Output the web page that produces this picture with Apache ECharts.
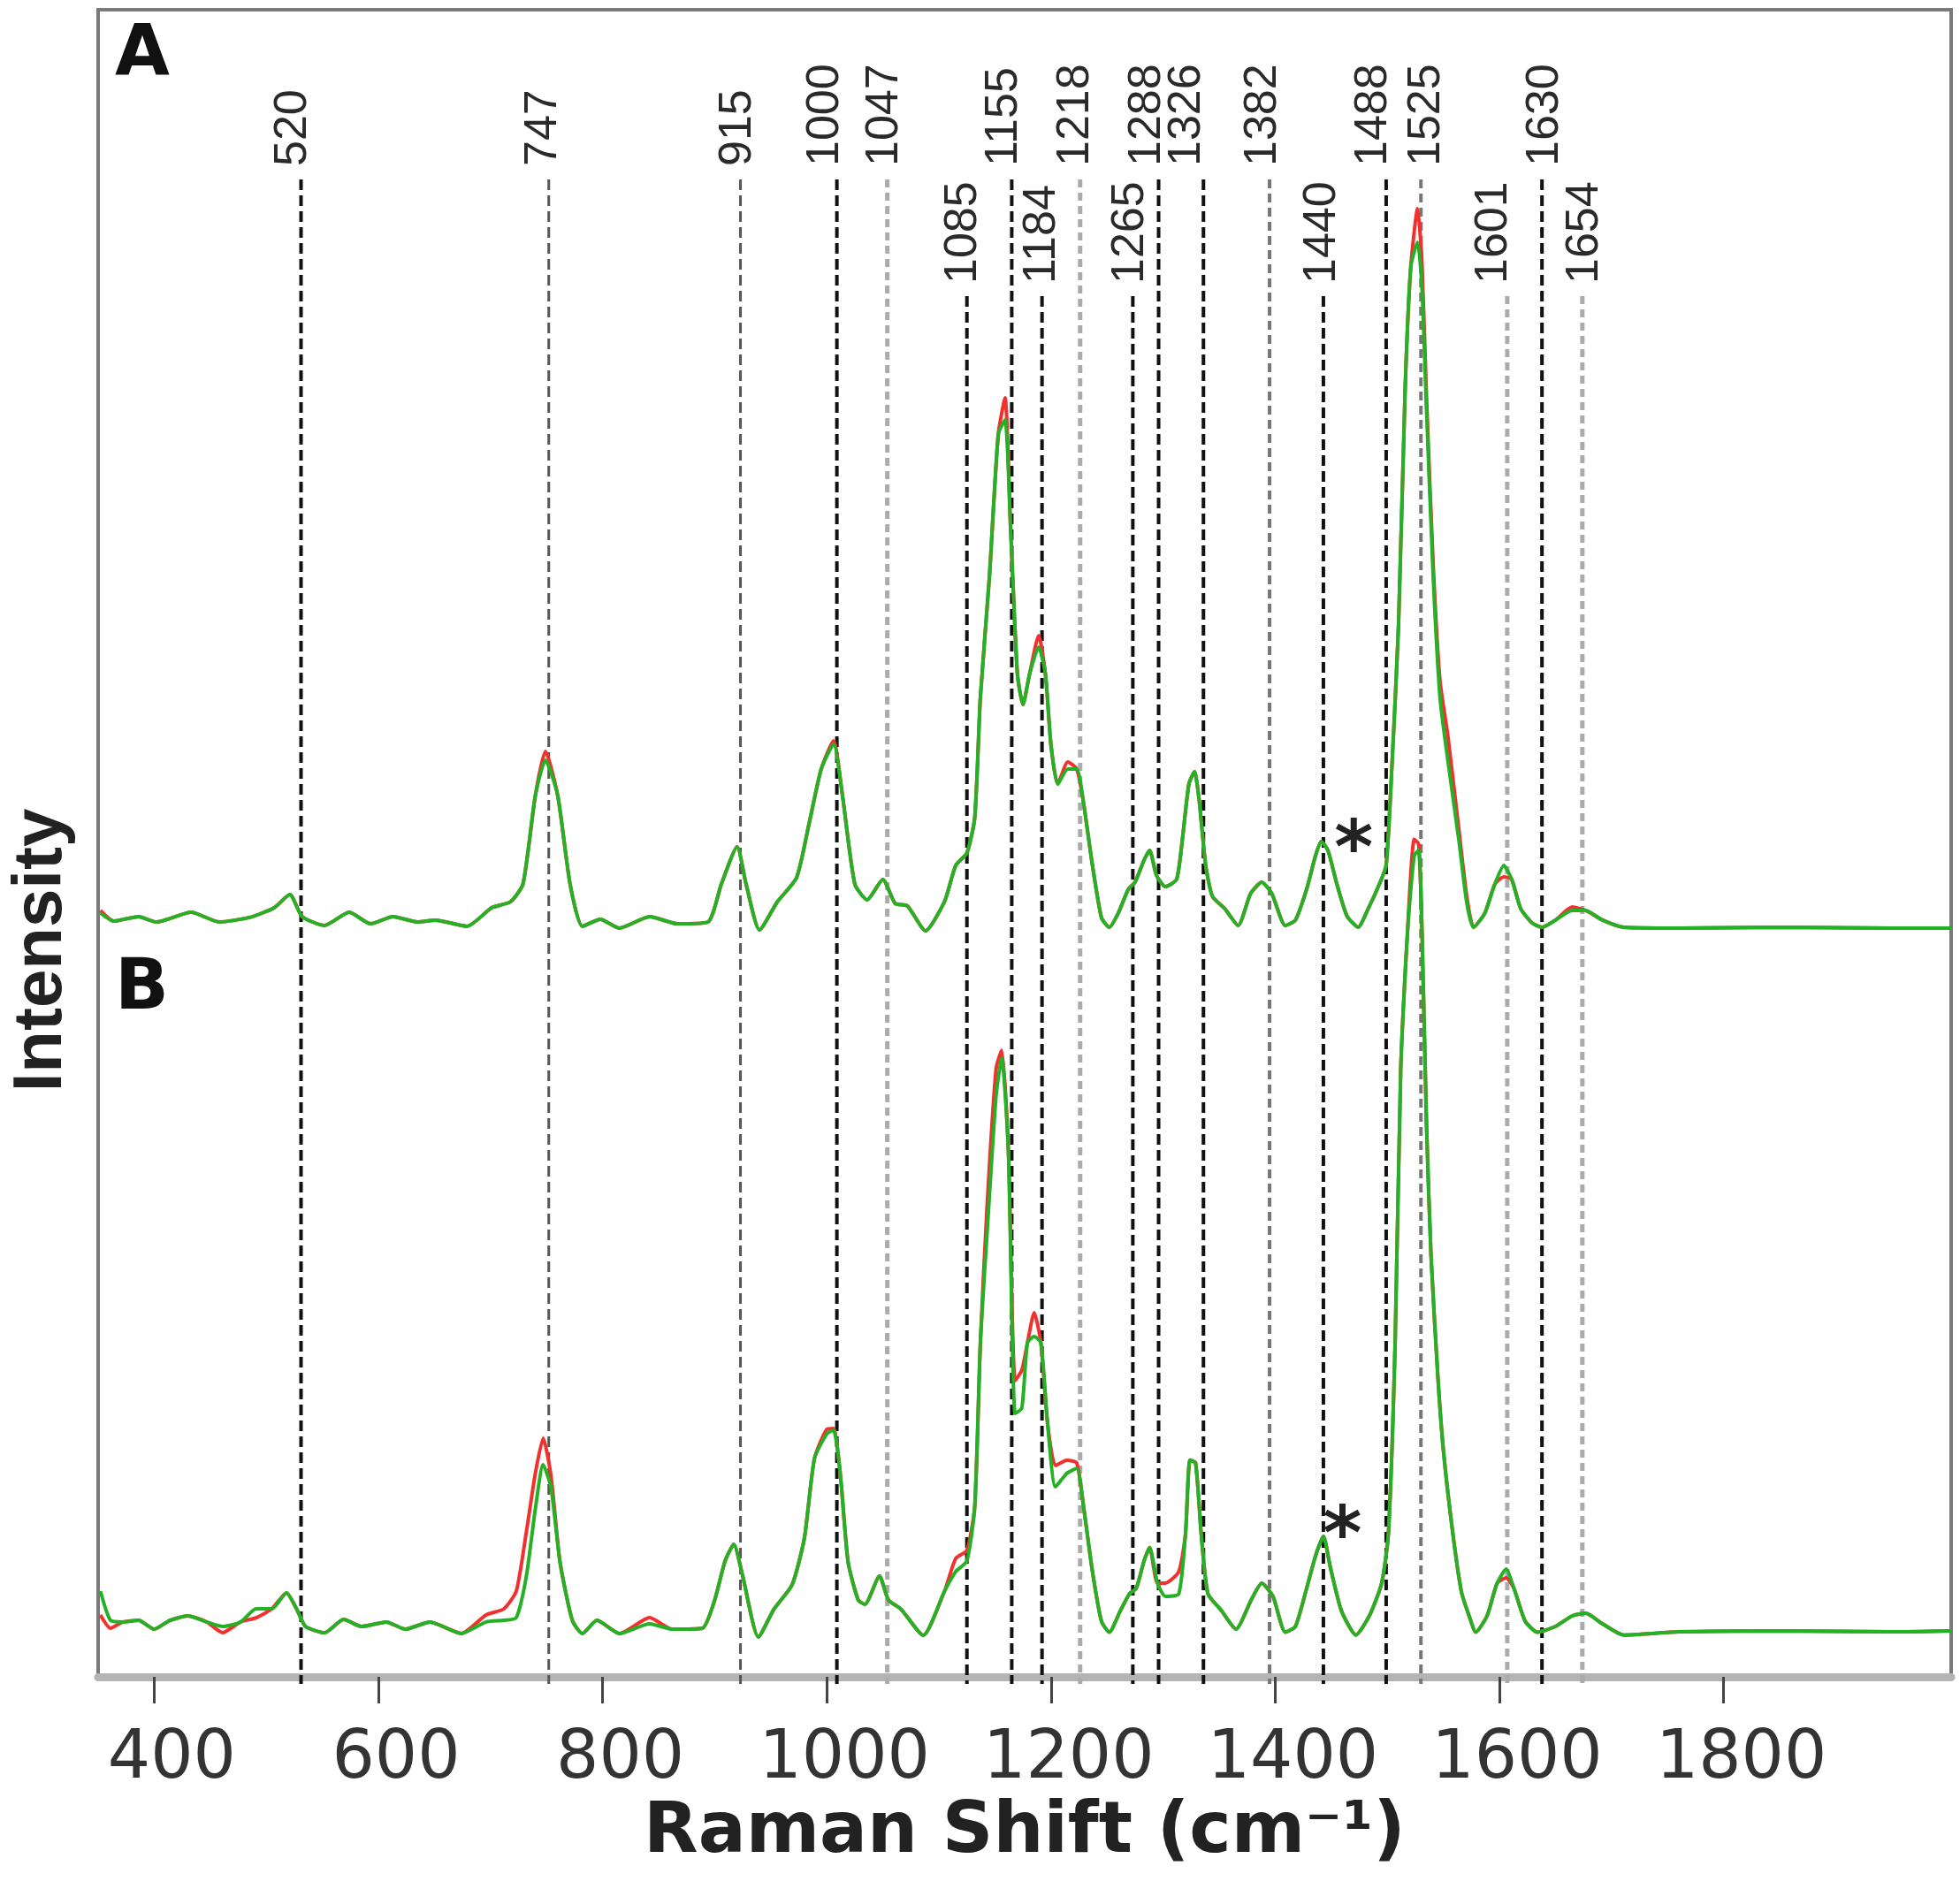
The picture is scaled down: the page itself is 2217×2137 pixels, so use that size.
<!DOCTYPE html>
<html>
<head>
<meta charset="utf-8">
<title>Raman spectra</title>
<script src="https://cdn.jsdelivr.net/npm/echarts@6/dist/echarts.min.js"></script>
<style>
  html, body { margin: 0; padding: 0; background: #fff; }
  #chart { width: 2217px; height: 2137px; }
</style>
</head>
<body>
<div id="chart"></div>
<script>
// Raman shift ticks on the bottom axis
var TICKS = [400, 600, 800, 1000, 1200, 1400, 1600, 1800];

// peak labels, where each label sits and where its dashed line was drawn
var PEAK_LABELS = [520, 747, 915, 1000, 1047, 1085, 1155, 1184, 1218, 1265, 1288, 1326, 1382, 1440, 1488, 1525, 1601, 1630, 1654];
var PEAK_LABEL_X = [524, 747, 921, 999, 1052, 1122, 1158, 1192, 1222, 1271, 1286, 1321, 1389, 1442, 1488, 1535, 1595, 1641, 1676];
var PEAK_LINE_X = [531, 752, 923, 1009, 1054, 1125, 1165, 1192, 1226, 1273, 1296, 1336, 1395, 1443, 1499, 1530, 1607, 1638, 1674];

// spectrum A (upper trace), intensity in a.u. above its own baseline
var X_A = [352, 364, 386, 402, 433, 458, 485, 507, 521, 532, 552, 574, 593, 613, 635, 651, 679, 701, 718, 729,
  740, 749, 760, 771, 782, 798, 815, 842, 867, 894, 906, 920, 928, 940, 956, 973, 984, 995, 1006, 1014,
  1025, 1036, 1050, 1061, 1072, 1088, 1105, 1115, 1125, 1132, 1137, 1145, 1153, 1159, 1164, 1170, 1175, 1181, 1189, 1195,
  1200, 1206, 1215, 1223, 1229, 1237, 1245, 1252, 1260, 1269, 1275, 1283, 1288, 1294, 1302, 1312, 1317, 1323, 1328, 1332,
  1338, 1344, 1355, 1367, 1378, 1388, 1397, 1409, 1418, 1428, 1436, 1441, 1447, 1455, 1464, 1474, 1483, 1493, 1499, 1504,
  1510, 1516, 1521, 1527, 1531, 1535, 1541, 1547, 1554, 1564, 1571, 1577, 1587, 1596, 1604, 1611, 1619, 1629, 1638, 1650,
  1665, 1677, 1692, 1711, 1760, 1850, 1950, 2003];
var GREEN_A = [3.81, 3.33, 3.60, 3.28, 3.86, 3.28, 3.55, 4.13, 4.92, 3.60, 3.07, 3.86, 3.17, 3.60, 3.28, 3.39, 3.02, 4.13, 4.50, 5.56,
  10.86, 12.98, 10.86, 5.56, 3.02, 3.44, 2.91, 3.60, 3.17, 3.28, 5.56, 7.79, 5.56, 2.80, 4.50, 5.93, 9.11, 12.45, 13.94, 10.86,
  5.56, 4.61, 5.83, 4.39, 4.24, 2.75, 4.50, 6.67, 7.42, 9.54, 16.75, 23.91, 32.55, 33.40, 26.82, 18.18, 16.32, 18.18, 19.77, 18.18,
  13.89, 11.55, 12.45, 12.45, 10.44, 6.67, 3.55, 2.96, 3.81, 5.24, 5.67, 6.99, 7.58, 6.09, 5.40, 5.83, 8.11, 11.55, 12.29, 10.70,
  6.67, 4.82, 4.08, 3.07, 4.98, 5.67, 4.98, 3.07, 3.39, 5.24, 7.26, 8.11, 7.58, 5.56, 3.65, 2.96, 4.08, 5.56, 6.67, 12.45,
  21.04, 35.41, 42.62, 44.06, 41.19, 33.98, 23.91, 16.75, 12.98, 8.11, 4.39, 2.96, 3.81, 5.56, 6.67, 5.83, 4.08, 3.23, 2.96, 3.39,
  3.97, 3.97, 3.39, 2.96, 2.91, 2.96, 2.91, 2.91];
var RED_A = [3.97, 3.33, 3.60, 3.28, 3.86, 3.28, 3.55, 4.13, 4.92, 3.60, 3.07, 3.86, 3.17, 3.60, 3.28, 3.39, 3.02, 4.13, 4.50, 5.56,
  10.86, 13.51, 10.86, 5.56, 3.02, 3.44, 2.91, 3.60, 3.17, 3.28, 5.56, 7.79, 5.56, 2.80, 4.50, 5.93, 9.11, 12.45, 14.15, 10.86,
  5.56, 4.61, 5.83, 4.39, 4.24, 2.75, 4.50, 6.67, 7.42, 9.54, 16.75, 23.91, 32.55, 34.72, 26.82, 18.18, 16.32, 18.18, 20.46, 18.18,
  13.89, 11.55, 12.88, 12.45, 10.44, 6.67, 3.55, 2.96, 3.81, 5.24, 5.67, 6.99, 7.58, 6.09, 5.40, 5.83, 8.11, 11.55, 12.29, 10.70,
  6.67, 4.82, 4.08, 3.07, 4.98, 5.67, 4.98, 3.07, 3.39, 5.24, 7.26, 8.11, 7.58, 5.56, 3.65, 2.96, 4.08, 5.56, 6.67, 12.45,
  21.04, 35.41, 42.62, 46.07, 42.68, 34.72, 24.65, 17.76, 14.47, 8.74, 4.77, 2.96, 3.81, 5.56, 5.98, 5.83, 4.08, 3.23, 2.96, 3.39,
  4.18, 3.97, 3.39, 2.96, 2.91, 2.96, 2.91, 2.91];

// spectrum B (lower trace)
var X_B = [352, 361, 372, 386, 400, 414, 430, 447, 461, 477, 491, 505, 518, 527, 535, 552, 569, 585, 607, 624,
  646, 674, 696, 712, 723, 732, 740, 747, 754, 762, 773, 782, 795, 815, 842, 862, 889, 900, 909, 917,
  925, 939, 953, 969, 980, 989, 1000, 1006, 1012, 1019, 1028, 1034, 1047, 1055, 1066, 1086, 1105, 1115, 1125, 1132,
  1137, 1143, 1151, 1156, 1162, 1168, 1174, 1179, 1185, 1191, 1197, 1204, 1214, 1223, 1229, 1237, 1245, 1252, 1262, 1270,
  1276, 1283, 1288, 1295, 1302, 1314, 1320, 1324, 1329, 1334, 1340, 1352, 1365, 1379, 1388, 1398, 1409, 1418, 1428, 1436,
  1443, 1449, 1459, 1472, 1484, 1495, 1501, 1507, 1512, 1518, 1524, 1528, 1531, 1535, 1539, 1545, 1550, 1558, 1566, 1573,
  1579, 1589, 1598, 1606, 1613, 1623, 1634, 1650, 1665, 1677, 1692, 1711, 1760, 1850, 1950, 2003];
var GREEN_B = [5.14, 3.39, 3.29, 3.39, 2.86, 3.39, 3.66, 3.29, 3.02, 3.29, 4.08, 4.08, 5.04, 4.08, 3.02, 2.65, 3.45, 3.02, 3.29, 2.86,
  3.29, 2.60, 3.29, 3.39, 3.55, 6.04, 10.07, 12.73, 11.35, 6.89, 3.39, 2.60, 3.39, 2.60, 3.18, 2.86, 2.92, 4.61, 6.89, 7.95,
  6.04, 2.39, 4.08, 5.51, 8.32, 13.10, 14.58, 14.79, 12.20, 6.89, 4.61, 4.35, 6.04, 4.61, 4.08, 2.49, 5.14, 6.31, 6.95, 10.23,
  20.04, 26.62, 34.84, 37.12, 31.55, 15.80, 16.12, 20.04, 20.41, 20.04, 15.16, 11.40, 12.20, 12.51, 10.23, 6.31, 3.34, 2.68, 3.98, 4.98,
  5.30, 6.95, 7.76, 5.62, 4.83, 4.98, 8.59, 13.01, 12.83, 8.59, 4.98, 3.98, 2.86, 4.67, 5.62, 4.83, 2.68, 3.02, 5.30, 7.26,
  8.43, 6.63, 3.98, 2.51, 3.66, 5.62, 8.59, 20.04, 36.48, 44.64, 49.26, 49.58, 44.64, 33.09, 25.29, 18.13, 13.63, 8.85, 5.14, 3.66,
  2.68, 3.66, 5.62, 6.47, 5.30, 3.34, 2.68, 3.02, 3.66, 3.82, 3.18, 2.51, 2.70, 2.76, 2.70, 2.76];
var RED_B = [3.71, 2.92, 3.29, 3.39, 2.86, 3.39, 3.66, 3.29, 2.65, 3.29, 3.55, 4.08, 5.04, 4.08, 3.02, 2.65, 3.45, 3.02, 3.29, 2.86,
  3.29, 2.60, 3.71, 4.08, 5.14, 8.70, 12.20, 14.32, 12.04, 6.89, 3.39, 2.60, 3.39, 2.60, 3.55, 2.86, 2.92, 4.61, 6.89, 7.95,
  6.04, 2.39, 4.08, 5.51, 8.32, 13.10, 14.85, 14.90, 12.20, 6.89, 4.61, 4.35, 6.04, 4.61, 4.08, 2.49, 5.14, 7.10, 7.58, 10.23,
  20.04, 28.26, 36.48, 37.59, 31.55, 17.76, 18.40, 20.04, 21.85, 20.04, 15.16, 12.67, 12.99, 12.83, 10.23, 6.31, 3.34, 2.68, 3.98, 4.98,
  5.30, 6.95, 7.76, 5.62, 5.62, 6.31, 8.59, 13.01, 12.83, 8.59, 4.98, 3.98, 2.86, 4.67, 5.62, 4.83, 2.68, 3.02, 5.30, 7.26,
  8.43, 6.63, 3.98, 2.51, 3.66, 5.62, 8.59, 20.04, 36.48, 44.64, 50.24, 49.95, 44.64, 33.09, 25.29, 18.13, 13.63, 8.85, 5.14, 3.66,
  2.68, 3.66, 5.62, 5.94, 5.30, 3.34, 2.68, 3.02, 3.66, 3.82, 3.18, 2.51, 2.70, 2.76, 2.70, 2.76];

// asterisk marks (A, B): shift and height above the panel baseline
var STAR_X = [1470, 1460];
var STAR_Y = [8.69, 9.54];

// layout: panel A is lifted by this many intensity units
var OFFSET_A = 42;

// which labels sit on the lower row, and line tones
var LOWER_ROW = [1085, 1184, 1265, 1440, 1601, 1654];
var TONE_OF = { 747: 'dark', 915: 'dark', 1382: 'mid', 1525: 'mid', 1047: 'light', 1218: 'light', 1601: 'light', 1654: 'light' };
var TONES = {
  black: { color: '#111', width: 4, dash: [12, 6] },
  dark:  { color: '#555', width: 3, dash: [12, 6] },
  mid:   { color: '#777', width: 4, dash: [10, 6] },
  light: { color: '#ababab', width: 5, dash: [9, 6] }
};

var RED = '#f2302e';
var GREEN = '#26b026';

function pairs(xs, ys, off) {
  return xs.map(function (x, i) { return [x, ys[i] + off]; });
}

function renderPeak(params, api) {
  var i = params.dataIndex;
  var label = PEAK_LABELS[i];
  var cs = params.coordSys;
  var lineX = api.coord([api.value(0), 0])[0];
  var labX = api.coord([api.value(1), 0])[0];
  var lower = LOWER_ROW.indexOf(label) >= 0;
  var tone = TONES[TONE_OF[label] || 'black'];
  return {
    type: 'group',
    children: [{
      type: 'line',
      shape: { x1: lineX, y1: cs.y + (lower ? 324 : 192), x2: lineX, y2: cs.y + cs.height + 8 },
      style: { stroke: tone.color, lineWidth: tone.width, lineDash: tone.dash }
    }, {
      type: 'text',
      x: labX,
      y: cs.y + (lower ? 310 : 177),
      rotation: Math.PI / 2,
      style: {
        text: String(label), x: 0, y: 0,
        align: 'left', verticalAlign: 'middle',
        font: '52px "Liberation Sans"', fill: '#2a2a2a'
      }
    }]
  };
}

function renderStar(params, api) {
  var p = api.coord([api.value(0), api.value(1)]);
  return {
    type: 'text', x: p[0], y: p[1] + 24,
    style: {
      text: '*', x: 0, y: 0, align: 'center', verticalAlign: 'middle',
      font: 'bold 84px "DejaVu Sans"', fill: '#222'
    }
  };
}

var chart = echarts.init(document.getElementById('chart'));

chart.setOption({
  backgroundColor: '#fff',
  animation: false,
  grid: {
    left: 111, right: 10, top: 11, bottom: 240,
    show: true, borderColor: '#7a7a7a', borderWidth: 4,
    outerBoundsMode: 'none'
  },
  xAxis: {
    type: 'value', min: 350, max: 2003,
    splitLine: { show: false },
    axisLine: { show: true, lineStyle: { color: '#b4b4b4', width: 9 } },
    axisTick: { show: true, customValues: TICKS, length: 30, lineStyle: { color: '#444', width: 3 } },
    axisLabel: {
      customValues: TICKS, margin: 56, padding: [0, 0, 0, 40],
      formatter: function (v) { return String(v); },
      fontFamily: 'DejaVu Sans', fontSize: 76, color: '#333'
    },
    name: 'Raman Shift (cm\u207B\u00B9)',
    nameLocation: 'middle', nameGap: 136,
    nameTextStyle: { fontFamily: 'DejaVu Sans', fontWeight: 'bold', fontSize: 80, color: '#222' }
  },
  yAxis: {
    type: 'value', min: 0, max: 100,
    axisLine: { show: false }, axisTick: { show: false },
    axisLabel: { show: false }, splitLine: { show: false },
    name: 'Intensity', nameLocation: 'middle', nameGap: 25,
    nameTextStyle: {
      fontFamily: 'Liberation Sans', fontWeight: 'bold', fontSize: 78, color: '#222',
      padding: [0, 242, 0, 0]
    }
  },
  graphic: [
    { type: 'text', left: 130, top: 24, style: { text: 'A', font: 'bold 80px "DejaVu Sans"', fill: '#111' } },
    { type: 'text', left: 130, top: 1080, style: { text: 'B', font: 'bold 80px "DejaVu Sans"', fill: '#111' } }
  ],
  series: [{
    type: 'custom', name: 'peaks', renderItem: renderPeak, silent: true,
    encode: { x: [0, 1] },
    data: PEAK_LINE_X.map(function (x, i) { return [x, PEAK_LABEL_X[i]]; }),
    z: 1
  }, {
    type: 'line', name: 'A red', data: pairs(X_A, RED_A, OFFSET_A),
    showSymbol: false, smooth: 0.2, lineStyle: { color: RED, width: 4 }, z: 2
  }, {
    type: 'line', name: 'A green', data: pairs(X_A, GREEN_A, OFFSET_A),
    showSymbol: false, smooth: 0.2, lineStyle: { color: GREEN, width: 4 }, z: 3
  }, {
    type: 'line', name: 'B red', data: pairs(X_B, RED_B, 0),
    showSymbol: false, smooth: 0.2, lineStyle: { color: RED, width: 4 }, z: 2
  }, {
    type: 'line', name: 'B green', data: pairs(X_B, GREEN_B, 0),
    showSymbol: false, smooth: 0.2, lineStyle: { color: GREEN, width: 4 }, z: 3
  }, {
    type: 'custom', name: 'marks', renderItem: renderStar, silent: true,
    data: STAR_X.map(function (x, i) { return [x, STAR_Y[i] + (i === 0 ? OFFSET_A : 0)]; }),
    z: 4
  }]
});
</script>
</body>
</html>
